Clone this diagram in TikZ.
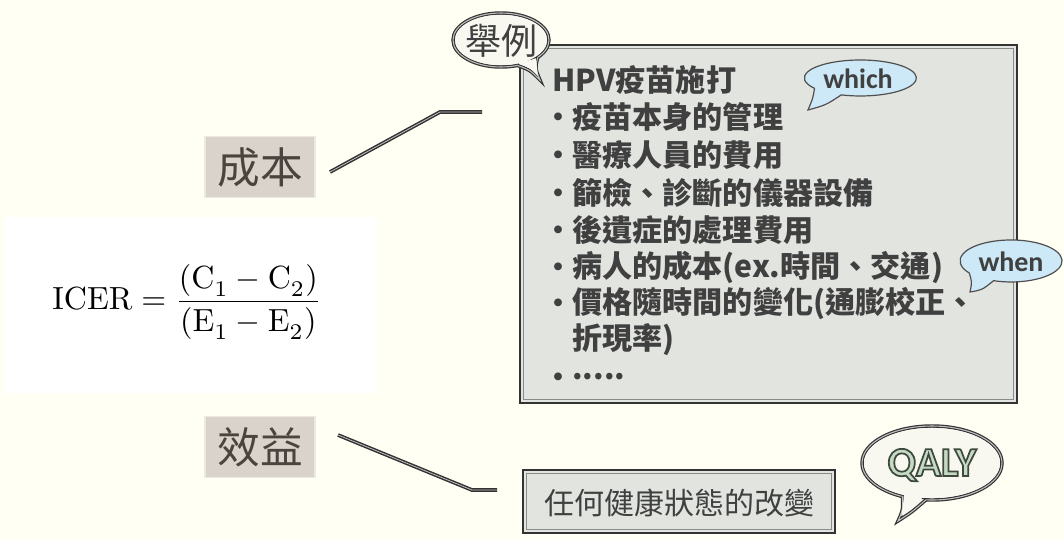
\documentclass[tikz,border=0pt]{standalone}
\usepackage{amsmath}
\usepackage{fontspec}
\newfontfamily\cjk{Noto Sans CJK TC}
\newfontfamily\carl{Carlito}
\usetikzlibrary{calc}
\definecolor{bg}{HTML}{FFFFF3}
\definecolor{labelfill}{HTML}{D9D3CB}
\definecolor{labeledge}{HTML}{ECE8E2}
\definecolor{labeltxt}{HTML}{4B433D}
\definecolor{boxfill}{HTML}{E1E4DF}
\definecolor{boxdark}{HTML}{333333}
\definecolor{innerline}{HTML}{8A8A8A}
\definecolor{txt}{HTML}{404040}
\definecolor{bblue}{HTML}{CDE8F6}
\definecolor{bborder}{HTML}{505050}
\definecolor{cream}{HTML}{F8F7F0}
\definecolor{qalyfill}{HTML}{C5D9C5}
\definecolor{linelight}{HTML}{C0C0C0}
\tikzset{
  lbl/.style={fill=labelfill, draw=labeledge, line width=1.2pt, minimum width=82.5pt, minimum height=46pt, inner sep=0pt, text=labeltxt, font=\cjk\fontsize{32}{32}\selectfont},
  conn/.style={draw=boxdark, double=linelight, line width=1.1pt, double distance=0.6pt},
  framebox/.style={draw=boxdark, line width=2.2pt, fill=boxfill, inner sep=0pt},
  thinframe/.style={draw=innerline, line width=0.7pt},
  item/.style={anchor=west, inner sep=0pt, text=txt, font=\cjk\bfseries\fontsize{22.6}{24}\selectfont},
  bul/.style={anchor=center, inner sep=0pt, text=txt, font=\cjk\bfseries\fontsize{21}{22}\selectfont},
  smallbubble/.style={draw=bborder, line width=0.9pt, fill=bblue},
  bigbubble/.style={draw=boxdark, double=linelight, line width=0.9pt, double distance=0.8pt, fill=cream},
  bubtxt/.style={inner sep=0pt, text=txt, font=\carl\bfseries\fontsize{21}{21}\selectfont},
  qalytxt/.style={inner sep=0pt, font=\carl\bfseries\fontsize{31}{31}\selectfont}
}
\begin{document}
\begin{tikzpicture}[x=0.75pt,y=-0.75pt]
\useasboundingbox (0,0) rectangle (1064,540);
\fill[bg] (0,0) rectangle (1064,540);
% formula panel
\fill[white] (5,217) rectangle (377,393);
\node[inner sep=0pt, scale=2.4, transform shape] (icer) at (187,302)
  {$\mathrm{ICER}=\dfrac{(\mathrm{C}_{\raisebox{-1pt}{$\scriptstyle 1$}}-\mathrm{C}_{\raisebox{-1pt}{$\scriptstyle 2$}})}{(\mathrm{E}_{\raisebox{-1pt}{$\scriptstyle 1$}}-\mathrm{E}_{\raisebox{-1pt}{$\scriptstyle 2$}})}$};
% labels
\node[lbl] (cost) at (260,167) {成本};
\node[lbl] (benefit) at (260,447) {效益};
% connectors
\coordinate (c1s) at (330,172);
\coordinate (c1m) at (440,112);
\coordinate (c1e) at (482,112);
\draw[conn] (c1s) -- (c1m) -- (c1e);
\coordinate (c2s) at (338,435);
\coordinate (c2m) at (472,490);
\coordinate (c2e) at (497,490);
\draw[conn] (c2s) -- (c2m) -- (c2e);
% main box
\node[framebox, minimum width=372.75pt, minimum height=268.5pt] (main) at (768.5,224) {};
\draw[thinframe] ($(main.north west)+(5,5)$) rectangle ($(main.south east)+(-5,-5)$);
\node[item] (l0) at (552,80) {HPV疫苗施打};
\node[bul] (b1) at (558,120) {•};
\node[item] (l1) at (572,117) {疫苗本身的管理};
\node[bul] (b2) at (558,158) {•};
\node[item] (l2) at (572,155) {醫療人員的費用};
\node[bul] (b3) at (558,196) {•};
\node[item] (l3) at (572,193) {篩檢、診斷的儀器設備};
\node[bul] (b4) at (558,233) {•};
\node[item] (l4) at (572,230) {後遺症的處理費用};
\node[bul] (b5) at (558,270) {•};
\node[item] (l5) at (572,267) {病人的成本(ex.時間、交通)};
\node[bul] (b6) at (558,306) {•};
\node[item] (l6) at (572,303) {價格隨時間的變化(通膨校正、};
\node[item] (l7) at (572,340) {折現率)};
\node[bul] (b8) at (558,380) {•};
\node[item] (l8) at (572,377) {.....};
% small box
\node[framebox, minimum width=234pt, minimum height=47.25pt] (health) at (679,501.5) {};
\draw[thinframe] ($(health.north west)+(5,5)$) rectangle ($(health.south east)+(-5,-5)$);
\node[inner sep=0pt, text=txt, font=\cjk\fontsize{22.5}{24}\selectfont] (healthtxt) at (679,503) {任何健康狀態的改變};
% bubble 舉例
\draw[bigbubble] (501,40) ellipse [x radius=36pt, y radius=20.25pt];
\draw[bigbubble] (517.4,65.4) .. controls (530,70) .. (540,80) .. controls (535,68) .. (537.8,57.4);
\fill[cream] (501,40) ellipse [x radius=34.5pt, y radius=18.9pt];
\path[fill=cream] (519,62) -- (536,59) -- (538,76) .. controls (530,68) .. (519,64) -- cycle;
\node[inner sep=0pt, text=txt, font=\cjk\fontsize{27}{27}\selectfont] (example) at (501,41) {舉例};
% bubble which
\draw[smallbubble] (841.2,94.9) arc[start angle=250, end angle=575, x radius=42pt, y radius=13.5pt]
  .. controls (813,98) .. (808,110) .. controls (826,105) .. (841.2,94.9) -- cycle;
\node[bubtxt] (which) at (858,79) {which};
% bubble when
\draw[smallbubble] (993.6,280.7) arc[start angle=250, end angle=575, x radius=38.25pt, y radius=15.75pt]
  .. controls (972,282) .. (970,292) .. controls (982,290) .. (993.6,280.7) -- cycle;
\node[bubtxt] (when) at (1011,262) {when};
% bubble QALY
\draw[bigbubble] (932,463) ellipse [x radius=52.5pt, y radius=27.75pt];
\draw[bigbubble] (902.4,496.5) .. controls (903,510) .. (898,521) .. controls (912,512) .. (925.9,499.9);
\fill[cream] (932,463) ellipse [x radius=51pt, y radius=26.3pt];
\path[fill=cream] (904,494) -- (924,496) .. controls (912,508) .. (901,516) .. controls (903,506) .. (904,494) -- cycle;
\node[qalytxt, text=qalyfill] (qaly) at (932,465)
  {\special{pdf:literal direct 0.24 0.29 0.24 RG 1.3 w 2 Tr}QALY\special{pdf:literal direct 0 Tr}};
\end{tikzpicture}
\end{document}
